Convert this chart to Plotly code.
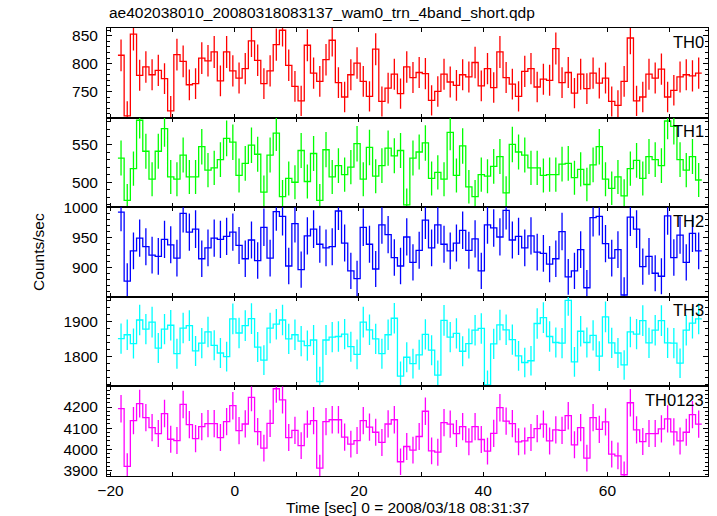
import numpy as np
import plotly.graph_objects as go
from plotly.subplots import make_subplots

# ---------------- data (count rates, 1-s bins) ----------------
BIN_START = -18.8   # left edge of first bin [s]
BIN_WIDTH = 1.0     # [s]

TH0 = [815, 706, 853, 779, 794, 780, 788, 773, 715, 816, 804, 762, 764, 810, 805, 821,
       769, 821, 787, 774, 791, 841, 806, 764, 787, 834, 860, 797, 759, 733, 833, 783,
       768, 807, 842, 766, 740, 780, 801, 768, 741, 826, 732, 756, 781, 746, 794, 775,
       784, 782, 734, 750, 781, 767, 761, 780, 776, 802, 760, 791, 757, 821, 775, 763,
       741, 786, 791, 758, 772, 770, 827, 766, 784, 747, 781, 755, 783, 765, 774, 732,
       725, 768, 846, 733, 740, 781, 774, 790, 740, 752, 776, 780, 778, 783]

TH1 = [532, 476, 518, 582, 541, 504, 541, 571, 507, 504, 536, 507, 507, 547, 516, 519,
       530, 558, 553, 509, 525, 549, 537, 487, 536, 565, 481, 505, 500, 542, 501, 538,
       476, 543, 507, 522, 510, 520, 551, 504, 546, 508, 522, 545, 535, 542, 470, 532,
       540, 552, 505, 513, 504, 566, 509, 548, 494, 481, 510, 508, 521, 534, 486, 550,
       540, 536, 519, 519, 509, 510, 510, 524, 525, 506, 517, 497, 523, 547, 504, 492,
       507, 482, 518, 529, 505, 534, 530, 522, 581, 574, 530, 516, 534, 503]

TH2 = [992, 878, 928, 949, 935, 921, 919, 947, 938, 916, 990, 959, 964, 915, 933, 949,
       947, 952, 959, 937, 915, 946, 912, 967, 916, 993, 985, 903, 973, 897, 953, 964,
       939, 933, 935, 994, 941, 895, 882, 967, 939, 898, 971, 955, 917, 903, 951, 909,
       929, 979, 933, 971, 939, 928, 941, 962, 929, 948, 895, 971, 966, 951, 995, 946,
       952, 933, 953, 926, 924, 906, 915, 960, 885, 895, 930, 867, 983, 985, 940, 916,
       930, 855, 984, 964, 902, 919, 891, 886, 986, 917, 954, 909, 957, 928]

TH3 = [1851, 1862, 1837, 1904, 1878, 1898, 1824, 1878, 1889, 1808, 1881, 1888, 1816, 1838,
       1870, 1832, 1810, 1800, 1907, 1867, 1888, 1908, 1827, 1790, 1881, 1892, 1904, 1850,
       1862, 1844, 1831, 1847, 1729, 1847, 1855, 1857, 1864, 1828, 1806, 1898, 1876, 1850,
       1808, 1862, 1909, 1744, 1798, 1780, 1805, 1863, 1818, 1747, 1903, 1855, 1866, 1815,
       1837, 1875, 1880, 1719, 1836, 1890, 1876, 1848, 1802, 1783, 1788, 1894, 1911, 1857,
       1840, 1838, 1960, 1785, 1872, 1840, 1860, 1801, 1913, 1839, 1810, 1776, 1870, 1864,
       1902, 1839, 1875, 1902, 1839, 1838, 1781, 1875, 1895, 1907]

TH0123 = [4192, 3920, 4136, 4216, 4150, 4103, 4075, 4169, 4048, 4042, 4212, 4117, 4051, 4108,
          4122, 4122, 4056, 4131, 4206, 4089, 4120, 4245, 4084, 4006, 4123, 4286, 4234, 4056,
          4090, 4018, 4119, 4136, 3912, 4131, 4140, 4140, 4058, 4025, 4042, 4136, 4105, 4081,
          4033, 4120, 4140, 3942, 4014, 3997, 4061, 4180, 3993, 3987, 4126, 4119, 4075, 4108,
          4036, 4108, 4047, 3992, 4076, 4197, 4133, 4122, 4036, 4040, 4056, 4098, 4119, 4040,
          4092, 4090, 4159, 4022, 4103, 3959, 4150, 4095, 4130, 3978, 3970, 3881, 4220, 4092,
          4037, 4075, 4075, 4097, 4144, 4083, 4040, 4081, 4164, 4119]

SERIES_NAMES = ["TH0", "TH1", "TH2", "TH3", "TH0123"]
SERIES = [TH0, TH1, TH2, TH3, TH0123]
COLORS = ["#ff0000", "#00ff00", "#0000ff", "#00ffff", "#ff00ff"]

Y_RANGES = [[703, 864], [467, 585.5], [852, 1000.3], [1715, 1970], [3875, 4297]]
Y_TICKS = [[750, 800, 850], [500, 550], [900, 950, 1000], [1800, 1900], [3900, 4000, 4100, 4200]]
Y_MINOR = [10, 10, 10, 20, 20]

X_TICKVALS = [-20, -10, 0, 10, 20, 30, 40, 50, 60, 70]
X_TICKTEXT = ["\u221220", "", "0", "", "20", "", "40", "", "60", ""]
X_RANGE = [-20.56, 76.2]

TITLE = "ae402038010_20080318083137_wam0_trn_4band_short.qdp"
X_TITLE = "Time [sec] 0 = 2008/03/18 08:31:37"
Y_TITLE = "Counts/sec"

FONT = "Liberation Sans, Arial, sans-serif"
FS = 15.5

# ---------------- figure ----------------
fig = make_subplots(rows=5, cols=1, shared_xaxes=True, vertical_spacing=0)

n = len(TH0)
edges = BIN_START + BIN_WIDTH * np.arange(n + 1)
centers = BIN_START + BIN_WIDTH * (np.arange(n) + 0.5)

for r, (name, vals, col) in enumerate(zip(SERIES_NAMES, SERIES, COLORS), start=1):
    v = np.asarray(vals, dtype=float)
    err = np.sqrt(v * BIN_WIDTH) / BIN_WIDTH   # Poisson error of a 1-s bin
    fig.add_trace(go.Scatter(
        x=edges, y=np.append(v, v[-1]), mode="lines",
        line=dict(color=col, width=1.3, shape="hv"),
        showlegend=False, hoverinfo="skip"), row=r, col=1)
    fig.add_trace(go.Scatter(
        x=centers, y=v, mode="markers",
        marker=dict(size=1, color=col, opacity=0),
        error_y=dict(type="data", array=err, visible=True, width=0,
                     thickness=1.3, color=col),
        showlegend=False), row=r, col=1)

    fig.update_yaxes(
        range=Y_RANGES[r - 1], tickvals=Y_TICKS[r - 1],
        ticks="inside", ticklen=5, tickwidth=1, tickcolor="black",
        minor=dict(ticks="inside", ticklen=3, dtick=Y_MINOR[r - 1], tick0=0,
                   tickcolor="black", tickwidth=1, showgrid=False),
        showline=True, linecolor="black", linewidth=1, mirror="ticks",
        showgrid=False, zeroline=False,
        tickfont=dict(family=FONT, size=FS, color="black"),
        ticklabelstandoff=5,
        row=r, col=1)

    fig.update_xaxes(
        range=X_RANGE, tickvals=X_TICKVALS, ticktext=X_TICKTEXT,
        ticks="inside", ticklen=4, tickwidth=1, tickcolor="black",
        showline=True, linecolor="black", linewidth=1, mirror="ticks",
        showgrid=False, zeroline=False,
        tickfont=dict(family=FONT, size=FS, color="black"),
        showticklabels=(r == 5),
        row=r, col=1)

    fig.add_annotation(
        text=name, xref="x domain" if r == 1 else f"x{r} domain",
        yref="y domain" if r == 1 else f"y{r} domain",
        x=0.997, y=0.97, xanchor="right", yanchor="top", showarrow=False,
        font=dict(family=FONT, size=FS + 1, color="black"))

fig.add_annotation(text=TITLE, xref="paper", yref="paper", x=0.0, y=1.034,
                   xanchor="left", yanchor="middle", showarrow=False,
                   font=dict(family=FONT, size=FS, color="black"))
fig.add_annotation(text=X_TITLE, xref="paper", yref="paper", x=0.5, y=-0.07,
                   xanchor="center", yanchor="middle", showarrow=False,
                   font=dict(family=FONT, size=FS, color="black"))
fig.add_annotation(text=Y_TITLE, xref="paper", yref="paper", x=-0.115, y=0.5,
                   xanchor="center", yanchor="middle", textangle=-90, showarrow=False,
                   font=dict(family=FONT, size=FS, color="black"))

fig.update_layout(
    width=717, height=516,
    margin=dict(l=107, r=9, t=28, b=40),
    paper_bgcolor="white", plot_bgcolor="white",
    showlegend=False,
)

# remove the default 8 px page margin so the figure fills the window exactly
fig.write_html("out.html",
               config={"displayModeBar": False},
               post_script="document.body.style.margin='0px';"
                           "document.body.style.overflow='hidden';")
